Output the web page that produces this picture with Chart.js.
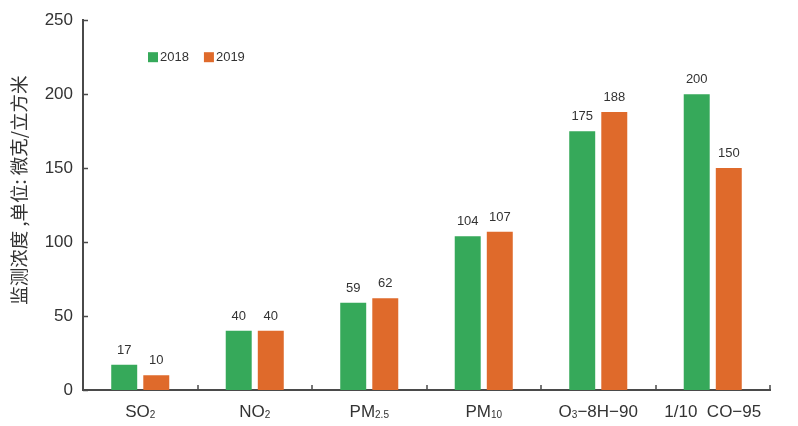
<!DOCTYPE html>
<html>
<head>
<meta charset="utf-8">
<script src="https://cdn.jsdelivr.net/npm/chart.js@4.4.1/dist/chart.umd.min.js"></script>
<style>
  html, body { margin: 0; padding: 0; background: #ffffff; }
  #wrap { width: 798px; height: 426px; }
</style>
</head>
<body>
<div id="wrap"><canvas id="c" width="798" height="426"></canvas></div>
<script>
// Pollutant categories; each entry is a list of text runs, odd runs are subscripts
const categoryParts = [
  ['SO', '2'],
  ['NO', '2'],
  ['PM', '2.5'],
  ['PM', '10'],
  ['O', '3', '\u22128H\u221290'],
  ['1/10  CO\u221295']
];
const categories = categoryParts.map(p => p.join(''));
const years = ['2018', '2019'];
const values2018 = [17, 40, 59, 104, 175, 200];
const values2019 = [10, 40, 62, 107, 188, 150];
const yTicks = [0, 50, 100, 150, 200, 250];
const yTitle = '监测浓度 ,单位: 微克/立方米';

const FONT = '"Liberation Sans", Arial, "Noto Sans CJK SC", sans-serif';
const TEXT = '#333333';
const AXIS = '#4a4a4a';

// Inward tick marks, value labels, category labels with subscripts, axis title and inset legend
const decorations = {
  id: 'decorations',
  afterDraw(chart) {
    const ctx = chart.ctx;
    const area = chart.chartArea;
    const xs = chart.scales.x, ys = chart.scales.y;
    ctx.save();

    // tick marks pointing into the plot
    ctx.strokeStyle = AXIS;
    ctx.lineWidth = 1.5;
    ys.ticks.forEach(t => {
      const y = Math.round(ys.getPixelForValue(t.value)) + 0.5;
      ctx.beginPath(); ctx.moveTo(area.left, y); ctx.lineTo(area.left + 5, y); ctx.stroke();
    });
    const half = (xs.getPixelForTick(1) - xs.getPixelForTick(0)) / 2;
    for (let i = 0; i < categories.length; i++) {
      const x = Math.round(xs.getPixelForTick(i) + half);
      ctx.beginPath(); ctx.moveTo(x, area.bottom); ctx.lineTo(x, area.bottom - 5); ctx.stroke();
    }

    // value labels above bars
    ctx.fillStyle = TEXT;
    ctx.font = '13px ' + FONT;
    ctx.textAlign = 'center';
    ctx.textBaseline = 'alphabetic';
    chart.data.datasets.forEach((ds, di) => {
      chart.getDatasetMeta(di).data.forEach((bar, i) => {
        ctx.fillText(String(ds.data[i]), bar.x, bar.y - 11);
      });
    });

    // category labels
    const mainFont = '17px ' + FONT, subFont = '10px ' + FONT;
    ctx.textAlign = 'left';
    categoryParts.forEach((parts, i) => {
      let w = 0;
      parts.forEach((p, k) => { ctx.font = k % 2 ? subFont : mainFont; w += ctx.measureText(p).width; });
      let x = xs.getPixelForTick(i) - w / 2;
      const base = area.bottom + 27;
      parts.forEach((p, k) => {
        ctx.font = k % 2 ? subFont : mainFont;
        ctx.fillText(p, x, k % 2 ? base + 1 : base);
        x += ctx.measureText(p).width;
      });
    });

    // vertical axis title
    ctx.save();
    ctx.translate(19, area.top + (area.bottom - area.top) / 2 - 15);
    ctx.rotate(-Math.PI / 2);
    ctx.font = '18.5px "Noto Sans CJK SC", ' + FONT;
    ctx.textAlign = 'center';
    ctx.textBaseline = 'middle';
    ctx.fillStyle = TEXT;
    ctx.fillText(yTitle, 0, 0);
    ctx.restore();

    // legend inside the plot
    ctx.font = '13px ' + FONT;
    ctx.textAlign = 'left';
    ctx.textBaseline = 'middle';
    let lx = area.left + 65;
    const ly = area.top + 37;
    chart.data.datasets.forEach(ds => {
      ctx.fillStyle = ds.backgroundColor;
      ctx.fillRect(lx, ly - 5, 10, 10);
      ctx.fillStyle = TEXT;
      ctx.fillText(ds.label, lx + 12, ly);
      lx += 12 + ctx.measureText(ds.label).width + 15;
    });
    ctx.restore();
  }
};

new Chart(document.getElementById('c'), {
  type: 'bar',
  data: {
    labels: categories,
    datasets: [
      { label: years[0], data: values2018, backgroundColor: '#36a95a' },
      { label: years[1], data: values2019, backgroundColor: '#df6a2b' }
    ]
  },
  options: {
    responsive: false,
    animation: false,
    devicePixelRatio: 1,
    layout: { padding: { top: 20, right: 28, left: 0, bottom: 0 } },
    datasets: { bar: { categoryPercentage: 0.56, barPercentage: 0.81 } },
    plugins: { legend: { display: false }, tooltip: { enabled: false } },
    scales: {
      x: {
        grid: { display: false, drawTicks: false },
        border: { display: true, color: AXIS, width: 2 },
        ticks: { display: false },
        afterFit(s) { s.height = 36; }
      },
      y: {
        min: 0, max: 250,
        afterBuildTicks(s) { s.ticks = yTicks.map(v => ({ value: v })); },
        grid: { display: false, drawTicks: false },
        border: { display: true, color: AXIS, width: 2 },
        ticks: { color: TEXT, font: { size: 17, family: FONT }, padding: 10 },
        afterFit(s) { s.width = 83; }
      }
    }
  },
  plugins: [decorations]
});
</script>
</body>
</html>
